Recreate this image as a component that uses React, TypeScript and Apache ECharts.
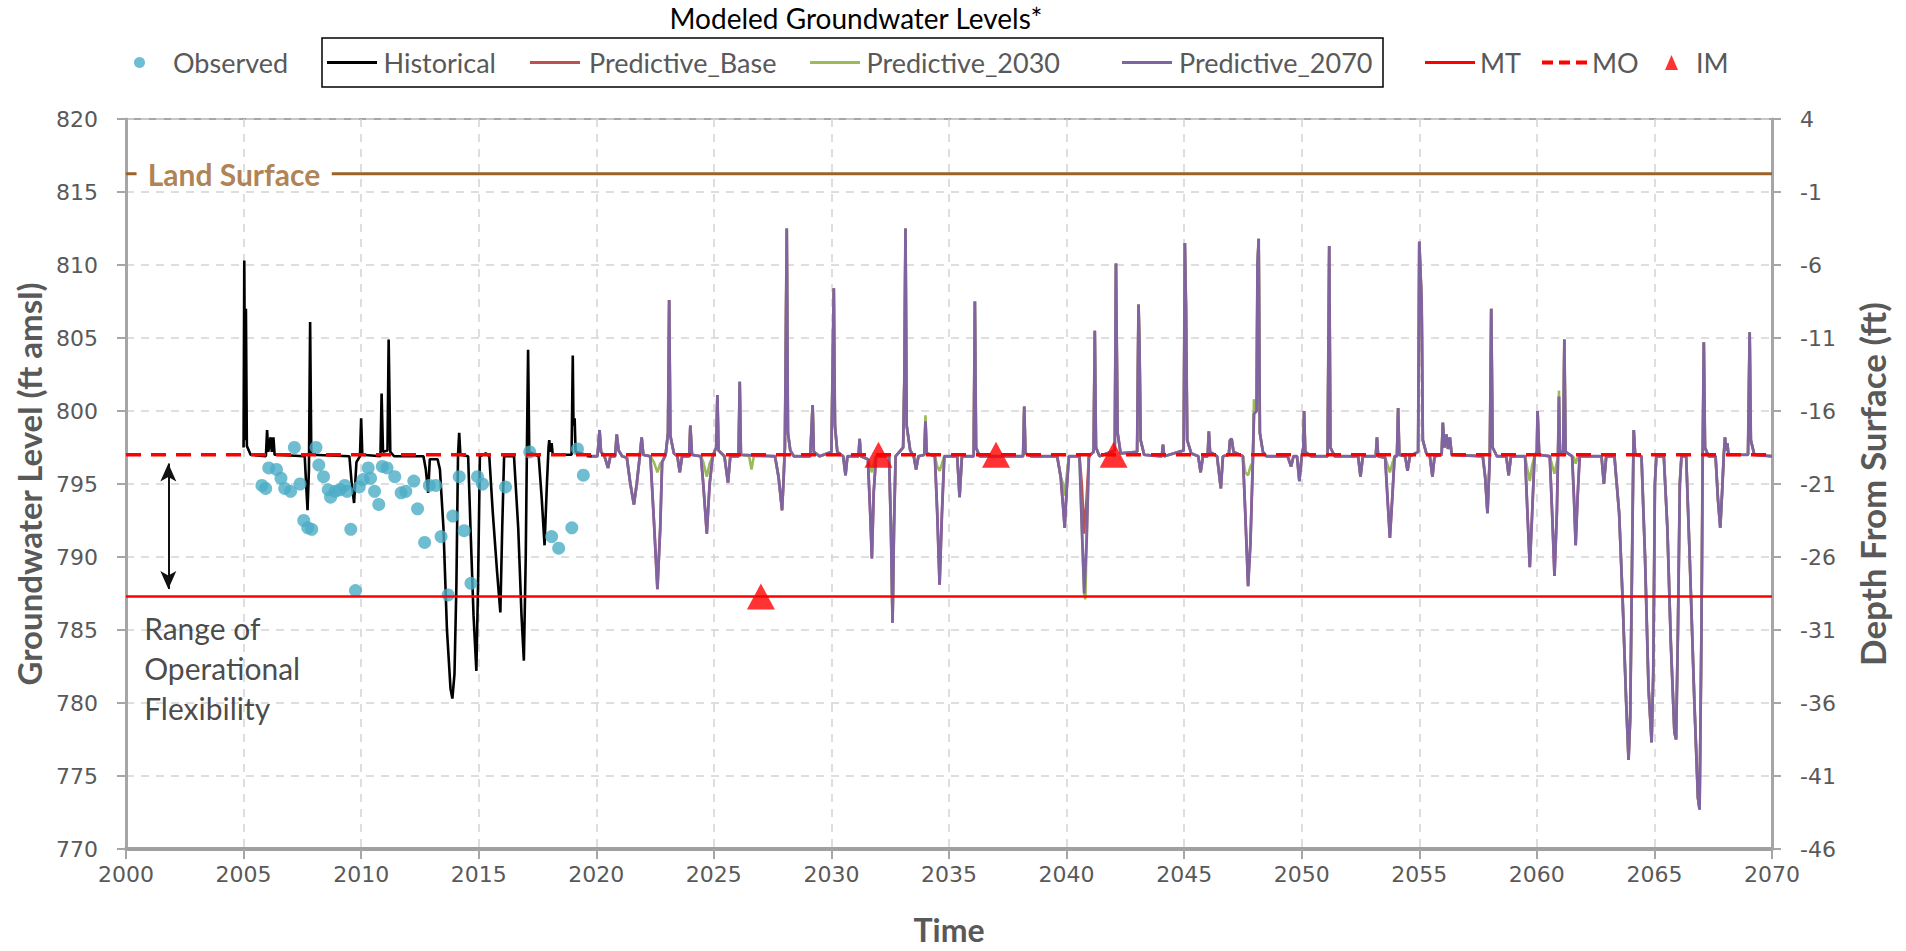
import React, { useEffect, useRef } from 'react';
import * as echarts from 'echarts';

type Pt = [number, number];

// ---------------- data ----------------
const timeRange = { min: 2000, max: 2070, step: 5 };
const levelRange = { min: 770, max: 820, step: 5 };
const depthDatum = 816; // depth from surface = level - 816

const landSurfaceLeft: Pt[] = [[2000, 816.25], [2000.45, 816.25]];
const landSurfaceRight: Pt[] = [[2008.75, 816.25], [2070, 816.25]];
const landSurfaceLabelAt: Pt = [2000.9, 816.25];

const mtLevel = 787.3;
const moLevel = 797.0;
const imPoints: Pt[] = [[2027.0, 787.3], [2032.0, 797.0], [2037.0, 797.0], [2042.0, 797.0]];

const rangeArrow: Pt[] = [[2001.8, 796.4], [2001.8, 787.8]];
const rangeLabelAt: Pt = [2000.75, 782.4];

const observed: Pt[] = [
  [2005.78, 794.9], [2005.94, 794.7], [2006.07, 796.1], [2006.4, 796.0], [2006.59, 795.4],
  [2006.75, 794.7], [2007.0, 794.5], [2007.16, 797.5], [2007.4, 795.0], [2007.56, 792.5],
  [2007.73, 792.0], [2007.9, 791.9], [2008.08, 797.5], [2008.2, 796.3], [2008.4, 795.5],
  [2008.6, 794.6], [2008.7, 794.1], [2008.9, 794.5], [2009.1, 794.6], [2009.3, 794.9],
  [2009.4, 794.5], [2009.56, 791.9], [2009.76, 787.7], [2009.92, 794.8], [2010.08, 795.3],
  [2010.3, 796.1], [2010.4, 795.4], [2010.57, 794.5], [2010.75, 793.6], [2010.9, 796.2],
  [2011.1, 796.1], [2011.43, 795.5], [2011.7, 794.4], [2011.9, 794.5], [2012.24, 795.2],
  [2012.4, 793.3], [2012.7, 791.0], [2012.9, 794.9], [2013.17, 794.9], [2013.4, 791.4],
  [2013.7, 787.4], [2013.9, 792.8], [2014.17, 795.5], [2014.38, 791.8], [2014.67, 788.2],
  [2014.95, 795.5], [2015.16, 795.0], [2016.14, 794.8], [2017.17, 797.2], [2018.1, 791.4],
  [2018.4, 790.6], [2018.96, 792.0], [2019.2, 797.4], [2019.45, 795.6],
];

const historical: Pt[] = [
  [2005.0, 797.5], [2005.03, 810.3], [2005.07, 798.0], [2005.1, 807.0], [2005.14, 797.6], [2005.3, 797.0],
  [2005.95, 796.9], [2006.0, 798.7], [2006.05, 797.2], [2006.15, 798.2], [2006.2, 797.2], [2006.27, 798.2], [2006.32, 797.0],
  [2007.6, 796.9], [2007.66, 795.0], [2007.72, 793.2], [2007.78, 796.0], [2007.83, 806.1], [2007.88, 797.0],
  [2009.5, 796.9], [2009.6, 795.0], [2009.7, 793.7], [2009.8, 796.5], [2009.95, 796.9], [2010.0, 799.5], [2010.05, 797.0],
  [2010.82, 796.9], [2010.87, 801.2], [2010.93, 797.2], [2011.12, 797.3], [2011.17, 804.9], [2011.24, 797.2], [2011.4, 796.9],
  [2012.65, 796.9], [2012.75, 796.0], [2012.85, 794.4], [2012.92, 796.7], [2013.25, 796.7],
  [2013.35, 796.0], [2013.5, 792.0], [2013.65, 785.0], [2013.8, 781.0], [2013.88, 780.3], [2013.97, 782.0], [2014.05, 788.0],
  [2014.12, 797.0], [2014.17, 798.5], [2014.22, 797.0],
  [2014.55, 796.9], [2014.65, 792.0], [2014.78, 786.0], [2014.9, 782.2], [2014.97, 788.0], [2015.05, 796.9], [2015.3, 797.1],
  [2015.45, 796.9], [2015.6, 793.0], [2015.78, 789.0], [2015.92, 786.2], [2016.0, 792.0], [2016.08, 796.9],
  [2016.5, 796.9], [2016.68, 792.0], [2016.82, 786.0], [2016.92, 782.9], [2017.0, 790.0], [2017.05, 797.5], [2017.1, 804.2], [2017.15, 797.2],
  [2017.55, 796.9], [2017.68, 794.0], [2017.8, 790.8], [2017.9, 795.0], [2017.97, 797.5], [2018.0, 798.0], [2018.05, 797.2], [2018.1, 797.8], [2018.15, 797.0],
  [2018.95, 797.0], [2019.0, 803.8], [2019.03, 799.0], [2019.08, 799.5], [2019.12, 797.2], [2019.8, 796.9],
];

const predictive2070: Pt[] = [
  [2019.6, 796.9], [2020.05, 796.9], [2020.14, 798.7], [2020.2, 797.2], [2020.35, 796.9], [2020.5, 796.1], [2020.6, 796.9],
  [2020.8, 796.9], [2020.87, 798.4], [2020.95, 797.3], [2021.1, 796.9],
  [2021.3, 796.8], [2021.45, 795.0], [2021.6, 793.6], [2021.72, 795.0], [2021.85, 796.9], [2021.93, 798.2], [2022.0, 797.0],
  [2022.3, 796.9], [2022.45, 792.5], [2022.6, 787.8], [2022.72, 792.0], [2022.8, 796.5], [2022.95, 797.0], [2023.05, 798.5],
  [2023.1, 807.6], [2023.15, 798.3], [2023.3, 797.1], [2023.45, 796.9], [2023.55, 795.8], [2023.65, 796.9],
  [2023.95, 796.9], [2024.0, 799.0], [2024.07, 797.0], [2024.45, 796.9], [2024.55, 795.0], [2024.7, 791.6], [2024.82, 795.0],
  [2024.95, 796.9], [2025.1, 797.5], [2025.15, 801.1], [2025.2, 797.3], [2025.45, 796.9], [2025.6, 795.1], [2025.7, 796.9],
  [2026.05, 796.9], [2026.1, 802.0], [2026.15, 797.0],
  [2027.6, 796.9], [2027.75, 795.5], [2027.9, 793.2], [2027.97, 795.5], [2028.02, 797.5], [2028.05, 802.7], [2028.1, 812.5],
  [2028.15, 798.5], [2028.25, 797.3], [2028.4, 796.9],
  [2029.1, 796.9], [2029.2, 800.4], [2029.25, 797.2], [2029.5, 796.9],
  [2030.0, 797.2], [2030.1, 808.4], [2030.15, 799.0], [2030.25, 797.2], [2030.5, 796.9], [2030.6, 795.6], [2030.68, 796.9],
  [2031.15, 796.9], [2031.2, 798.1], [2031.25, 796.9], [2031.55, 796.7], [2031.65, 793.0], [2031.72, 789.9], [2031.8, 794.5], [2031.9, 796.9],
  [2032.45, 796.9], [2032.53, 792.0], [2032.6, 785.5], [2032.66, 792.0], [2032.73, 796.9],
  [2033.05, 797.5], [2033.1, 802.0], [2033.15, 812.5], [2033.2, 799.0], [2033.35, 797.3], [2033.5, 796.9], [2033.6, 796.0], [2033.7, 796.9],
  [2033.95, 797.0], [2034.0, 799.3], [2034.05, 797.1], [2034.4, 796.9], [2034.5, 793.0], [2034.6, 788.1], [2034.7, 793.0], [2034.8, 796.9],
  [2035.35, 796.9], [2035.45, 794.1], [2035.55, 796.9],
  [2036.05, 796.9], [2036.1, 807.5], [2036.15, 797.5], [2036.3, 796.9],
  [2038.15, 796.9], [2038.2, 800.3], [2038.25, 797.1], [2038.5, 796.9],
  [2039.6, 796.9], [2039.75, 795.5], [2039.85, 793.5], [2039.92, 792.0], [2040.0, 794.5], [2040.1, 796.9],
  [2040.55, 796.9], [2040.65, 792.0], [2040.75, 787.5], [2040.85, 791.0], [2040.95, 796.9],
  [2041.15, 797.2], [2041.2, 805.5], [2041.25, 797.5], [2041.4, 796.9],
  [2042.05, 797.3], [2042.1, 810.1], [2042.17, 798.5], [2042.3, 797.1],
  [2043.0, 797.2], [2043.06, 807.3], [2043.1, 804.5], [2043.15, 798.0], [2043.3, 797.0],
  [2044.05, 796.9], [2044.1, 797.7], [2044.15, 796.9],
  [2044.98, 797.3], [2045.03, 811.5], [2045.08, 807.0], [2045.13, 798.0], [2045.3, 797.1], [2045.6, 796.9], [2045.7, 795.8], [2045.8, 796.9],
  [2046.0, 796.9], [2046.05, 798.6], [2046.1, 797.2], [2046.4, 796.9], [2046.56, 794.7], [2046.65, 796.9],
  [2046.9, 797.0], [2046.95, 798.0], [2047.02, 798.1], [2047.1, 797.2], [2047.5, 796.9], [2047.6, 793.0], [2047.72, 788.0],
  [2047.82, 791.0], [2047.92, 796.5], [2047.97, 799.8], [2048.08, 800.0], [2048.12, 810.0], [2048.17, 811.8], [2048.22, 798.5],
  [2048.35, 797.2], [2048.5, 796.9],
  [2049.4, 796.9], [2049.55, 796.2], [2049.65, 796.9], [2049.8, 796.9], [2049.9, 795.2], [2050.0, 796.9], [2050.07, 797.5],
  [2050.1, 800.0], [2050.15, 797.2], [2050.4, 796.9],
  [2051.1, 796.9], [2051.17, 811.3], [2051.22, 797.5], [2051.4, 796.9],
  [2052.4, 796.9], [2052.5, 795.5], [2052.6, 796.9],
  [2053.15, 796.9], [2053.2, 798.2], [2053.25, 796.9], [2053.55, 796.8], [2053.65, 794.0], [2053.75, 791.3], [2053.85, 794.0], [2053.95, 796.9],
  [2054.05, 796.9], [2054.1, 800.2], [2054.15, 797.0], [2054.4, 796.9], [2054.5, 795.9], [2054.6, 796.9],
  [2054.95, 797.2], [2055.0, 811.6], [2055.1, 807.5], [2055.15, 798.0], [2055.3, 797.1], [2055.45, 796.9], [2055.56, 795.5], [2055.65, 796.9],
  [2055.95, 797.0], [2056.0, 799.2], [2056.07, 797.5], [2056.15, 798.4], [2056.22, 797.4], [2056.3, 798.2], [2056.38, 797.0],
  [2057.7, 796.9], [2057.8, 795.5], [2057.9, 793.0], [2058.0, 796.9], [2058.06, 807.0], [2058.12, 797.5], [2058.3, 796.9],
  [2058.7, 796.9], [2058.8, 795.6], [2058.9, 796.9],
  [2059.5, 796.9], [2059.6, 793.0], [2059.7, 789.3], [2059.8, 793.0], [2059.9, 796.9], [2060.0, 797.2], [2060.03, 800.0], [2060.1, 797.0],
  [2060.55, 796.9], [2060.65, 793.0], [2060.75, 788.7], [2060.85, 793.0], [2060.9, 796.9], [2060.94, 801.0], [2060.98, 797.2],
  [2061.12, 797.2], [2061.17, 804.9], [2061.22, 797.2],
  [2061.5, 796.9], [2061.58, 794.0], [2061.65, 790.8], [2061.73, 794.0], [2061.82, 796.9],
  [2062.75, 796.9], [2062.85, 795.0], [2062.95, 796.9],
  [2063.3, 796.9], [2063.5, 793.0], [2063.65, 787.0], [2063.8, 780.0], [2063.9, 776.1], [2063.97, 779.0], [2064.05, 790.0],
  [2064.1, 796.5], [2064.12, 798.7], [2064.18, 797.0],
  [2064.45, 796.9], [2064.6, 790.0], [2064.75, 781.0], [2064.88, 777.3], [2064.95, 782.0], [2065.02, 795.0], [2065.08, 796.9],
  [2065.4, 796.9], [2065.55, 792.0], [2065.7, 784.0], [2065.85, 778.0], [2065.92, 777.5], [2066.0, 785.0], [2066.08, 795.0], [2066.15, 796.9],
  [2066.35, 796.9], [2066.5, 790.0], [2066.7, 780.0], [2066.85, 773.5], [2066.92, 772.7], [2067.0, 785.0], [2067.05, 796.5],
  [2067.1, 804.7], [2067.15, 797.5], [2067.3, 796.9],
  [2067.6, 796.9], [2067.7, 794.0], [2067.8, 792.0], [2067.88, 794.5], [2067.95, 797.0], [2068.0, 798.2], [2068.05, 797.3],
  [2068.1, 797.8], [2068.15, 797.0],
  [2068.98, 797.0], [2069.05, 805.4], [2069.1, 798.0], [2069.25, 797.0], [2070.0, 796.9],
];

// where the Base scenario departs from the 2070 scenario
const baseDifferences: Pt[] = [
  [2040.65, 795.0], [2040.75, 791.6], [2040.85, 794.0],
];

// where the 2030 scenario departs from the 2070 scenario
const p2030Differences: Pt[] = [
  [2022.45, 796.5], [2022.6, 795.8], [2022.72, 796.4],
  [2024.55, 796.5], [2024.7, 795.5], [2024.82, 796.4],
  [2026.5, 796.9], [2026.6, 796.0], [2026.7, 796.9],
  [2031.65, 796.2], [2031.72, 795.8], [2031.8, 796.4],
  [2034.0, 799.7],
  [2034.5, 796.2], [2034.6, 795.9], [2034.7, 796.4],
  [2039.85, 795.0], [2039.92, 794.2], [2040.0, 795.5],
  [2040.8, 787.1],
  [2047.6, 795.8], [2047.72, 795.6], [2047.82, 796.2], [2047.97, 800.8],
  [2053.65, 796.3], [2053.75, 795.8], [2053.85, 796.4],
  [2059.6, 796.0], [2059.7, 795.2], [2059.8, 796.3],
  [2060.65, 796.3], [2060.75, 795.7], [2060.85, 796.5], [2060.94, 801.4],
  [2061.58, 796.8], [2061.65, 796.4], [2061.73, 796.8],
];

function withDifferences(base: Pt[], diffs: Pt[]): Pt[] {
  const m = new Map<number, number>();
  base.forEach(([x, y]) => m.set(x, y));
  diffs.forEach(([x, y]) => m.set(x, y));
  return Array.from(m.entries()).sort((a, b) => a[0] - b[0]) as Pt[];
}

const predictiveBase = withDifferences(predictive2070, baseDifferences);
const predictive2030 = withDifferences(predictive2070, p2030Differences);

// ---------------- styles ----------------
const NUM_FONT = '"DejaVu Sans", Verdana, sans-serif';
const TXT_FONT = 'Lato, "Open Sans", sans-serif';
const GRAY = '#595959';
const AXIS_GRAY = '#a6a6a6';
const GRID_GRAY = '#d4d4d4';
const BROWN = '#9a6228';

const SOLID_ICON = 'path://M0 0H50V3H0Z';
const DASH_ICON = 'path://M0 0H11V4H0Z M17 0H28V4H17Z M34 0H45V4H34Z';

export default function App() {
  const ref = useRef<HTMLDivElement>(null);

  useEffect(() => {
    if (!ref.current) return;
    const chart = echarts.init(ref.current, undefined, { renderer: 'svg' });

    const legendText = { fontFamily: TXT_FONT, fontSize: 27, color: GRAY };
    const legendTop = 49;
    const mkLegend = (name: string, left: number, width: number, extra: any = {}) => ({
      data: [name],
      left,
      top: legendTop,
      padding: 0,
      icon: SOLID_ICON,
      itemWidth: width,
      itemHeight: 3,
      selectedMode: false,
      textStyle: legendText,
      ...extra,
    });

    const hiddenDot = { color: 'rgba(0,0,0,0)' };

    const option: any = {
      animation: false,
      backgroundColor: '#ffffff',
      grid: {
        left: 126, right: 134, top: 119, bottom: 102,
        show: true, borderColor: AXIS_GRAY, borderWidth: 2, backgroundColor: 'transparent',
      },
      graphic: [
        {
          type: 'text', x: 856, y: 18, silent: true,
          style: {
            text: 'Modeled Groundwater Levels*', fontFamily: TXT_FONT, fontSize: 28, fill: '#000',
            textAlign: 'center', textVerticalAlign: 'middle', align: 'center', verticalAlign: 'middle',
          },
        },
        {
          type: 'rect', silent: true,
          shape: { x: 322, y: 38, width: 1061, height: 49 },
          style: { fill: 'none', stroke: '#000', lineWidth: 1.5 },
        },
      ],
      legend: [
        mkLegend('Observed', 134, 11, { icon: 'circle', itemHeight: 11, textStyle: { ...legendText, padding: [0, 0, 0, 23] } }),
        mkLegend('Historical', 327, 53),
        mkLegend('Predictive_Base', 530, 58),
        mkLegend('Predictive_2030', 810, 53),
        mkLegend('Predictive_2070', 1122, 54),
        mkLegend('MT', 1425, 50),
        mkLegend('MO', 1542, 45, { icon: DASH_ICON, itemHeight: 4 }),
        mkLegend('IM', 1665, 13, { icon: 'triangle', itemHeight: 15, textStyle: { ...legendText, padding: [0, 0, 0, 13] } }),
      ],
      xAxis: {
        type: 'value', min: timeRange.min, max: timeRange.max, interval: timeRange.step,
        name: 'Time', nameLocation: 'middle', nameGap: 64,
        nameTextStyle: { fontFamily: TXT_FONT, fontSize: 32, fontWeight: 'bold', color: GRAY },
        axisLine: { show: true, onZero: false, lineStyle: { color: '#a0a0a0', width: 4 } },
        axisTick: { show: true, length: 10, lineStyle: { color: AXIS_GRAY, width: 2 } },
        axisLabel: { fontFamily: NUM_FONT, fontSize: 22, color: GRAY, margin: 14, formatter: (v: number) => String(v) },
        splitLine: { show: true, lineStyle: { color: GRID_GRAY, width: 1.5, type: [8, 7] } },
      },
      yAxis: [
        {
          type: 'value', min: levelRange.min, max: levelRange.max, interval: levelRange.step, position: 'left',
          name: 'Groundwater Level (ft amsl)', nameLocation: 'middle', nameGap: 80, nameRotate: 90,
          nameTextStyle: { fontFamily: TXT_FONT, fontSize: 33, fontWeight: 'bold', color: GRAY },
          axisLine: { show: true, onZero: false, lineStyle: { color: AXIS_GRAY, width: 3 } },
          axisTick: { show: true, length: 9, lineStyle: { color: AXIS_GRAY, width: 2 } },
          axisLabel: { fontFamily: NUM_FONT, fontSize: 22, color: GRAY, margin: 28, formatter: (v: number) => String(v) },
          splitLine: { show: true, lineStyle: { color: GRID_GRAY, width: 1.5, type: [8, 7] } },
        },
        {
          type: 'value', min: levelRange.min, max: levelRange.max, interval: levelRange.step, position: 'right',
          name: 'Depth From Surface (ft)', nameLocation: 'middle', nameGap: 82, nameRotate: 90,
          nameTextStyle: { fontFamily: TXT_FONT, fontSize: 35, fontWeight: 'bold', color: GRAY },
          axisLine: { show: true, onZero: false, lineStyle: { color: AXIS_GRAY, width: 3 } },
          axisTick: { show: true, length: 9, lineStyle: { color: AXIS_GRAY, width: 2 } },
          axisLabel: { fontFamily: NUM_FONT, fontSize: 22, color: GRAY, margin: 28, formatter: (v: number) => String(Math.round(v - depthDatum)) },
          splitLine: { show: false },
        },
      ],
      series: [
        {
          name: 'LandSurfaceA', type: 'line', data: landSurfaceLeft, symbol: 'none', silent: true, z: 1,
          lineStyle: { color: BROWN, width: 3 },
        },
        {
          name: 'LandSurfaceB', type: 'line', data: landSurfaceRight, symbol: 'none', silent: true, z: 1,
          lineStyle: { color: BROWN, width: 3 },
        },
        {
          name: 'LandSurfaceLabel', type: 'scatter', data: [landSurfaceLabelAt], symbolSize: 1, silent: true, z: 1,
          itemStyle: hiddenDot,
          label: {
            show: true, position: 'right', distance: 0, formatter: 'Land Surface',
            fontFamily: TXT_FONT, fontSize: 30, fontWeight: 'bold', color: BROWN,
          },
        },
        {
          name: 'RangeLabel', type: 'scatter', data: [rangeLabelAt], symbolSize: 1, silent: true, z: 1,
          itemStyle: hiddenDot,
          label: {
            show: true, position: 'right', distance: 0, formatter: 'Range of\nOperational\nFlexibility',
            fontFamily: TXT_FONT, fontSize: 30, lineHeight: 40, color: '#1a1a1a', align: 'left',
          },
        },
        {
          name: 'Predictive_Base', type: 'line', data: predictiveBase, symbol: 'none', silent: true, z: 2,
          lineStyle: { color: '#c0504d', width: 2.6 }, itemStyle: { color: '#c0504d' },
        },
        {
          name: 'Predictive_2030', type: 'line', data: predictive2030, symbol: 'none', silent: true, z: 3,
          lineStyle: { color: '#9bbb59', width: 2.6 }, itemStyle: { color: '#9bbb59' },
        },
        {
          name: 'Predictive_2070', type: 'line', data: predictive2070, symbol: 'none', silent: true, z: 4,
          lineStyle: { color: '#8064a2', width: 2.8 }, itemStyle: { color: '#8064a2' },
        },
        {
          name: 'Historical', type: 'line', data: historical, symbol: 'none', silent: true, z: 5,
          lineStyle: { color: '#000000', width: 2.6 }, itemStyle: { color: '#000000' },
        },
        {
          name: 'Observed', type: 'scatter', data: observed, symbol: 'circle', symbolSize: 13, silent: true, z: 6,
          itemStyle: { color: '#4bacc6' },
        },
        {
          name: 'MT', type: 'line', data: [[timeRange.min, mtLevel], [timeRange.max, mtLevel]], symbol: 'none', silent: true, z: 7,
          lineStyle: { color: '#ff0000', width: 2.5 }, itemStyle: { color: '#ff0000' },
          markLine: {
            silent: true, symbol: ['arrow', 'arrow'], symbolSize: [12, 18],
            label: { show: false },
            lineStyle: { color: '#111111', width: 2, type: 'solid' },
            data: [[{ coord: rangeArrow[0] }, { coord: rangeArrow[1] }]],
          },
        },
        {
          name: 'MO', type: 'line', data: [[timeRange.min, moLevel], [timeRange.max, moLevel]], symbol: 'none', silent: true, z: 8,
          lineStyle: { color: '#ff0000', width: 3.5, type: [15, 10] }, itemStyle: { color: '#ff0000' },
        },
        {
          name: 'IM', type: 'scatter', data: imPoints, symbol: 'triangle', symbolSize: [28, 26], silent: true, z: 9,
          itemStyle: { color: '#ff0000' },
        },
      ],
    };

    chart.setOption(option);
    return () => chart.dispose();
  }, []);

  return (
    <div
      ref={ref}
      style={{ position: 'fixed', left: 0, top: 0, width: '1906px', height: '951px', background: '#fff' }}
    />
  );
}
